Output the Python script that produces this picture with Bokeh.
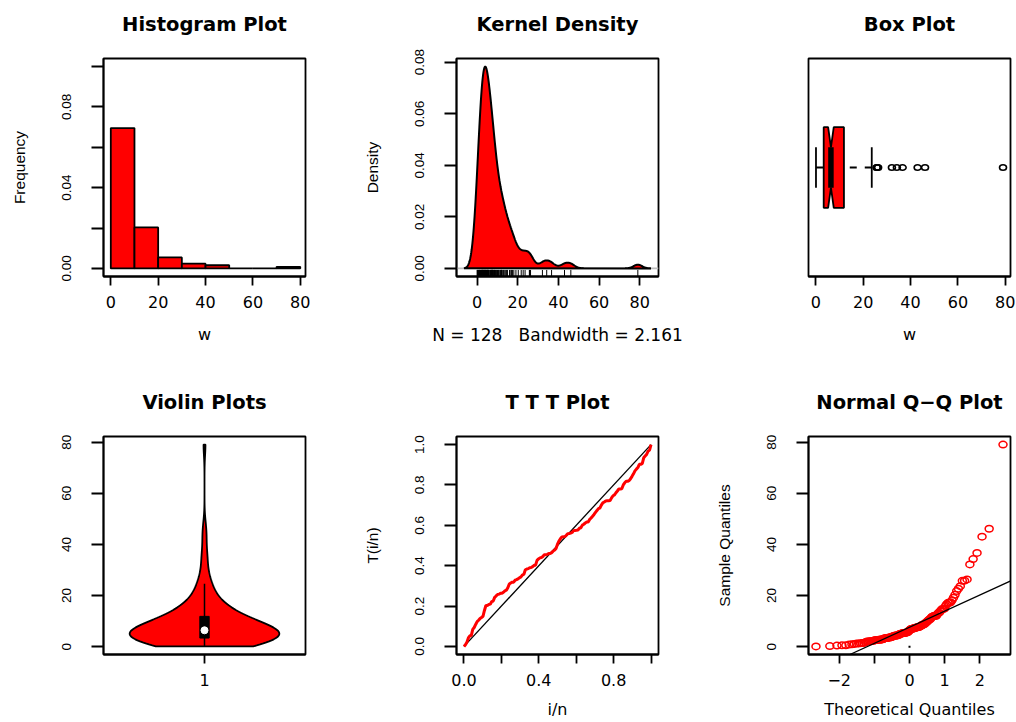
import math
from statistics import NormalDist

import numpy as np
from bokeh.embed import file_html
from bokeh.layouts import gridplot
from bokeh.models import FixedTicker, Range1d, Slope, Span
from bokeh.plotting import figure
from bokeh.resources import INLINE

# Remission times (months) of 128 bladder cancer patients
w = [
    0.08, 2.09, 3.48, 4.87, 6.94, 8.66, 13.11, 23.63, 0.20, 2.23, 3.52, 4.98, 6.97, 9.02, 13.29,
    0.40, 2.26, 3.57, 5.06, 7.09, 9.22, 13.80, 25.74, 0.50, 2.46, 3.64, 5.09, 7.26, 9.47, 14.24,
    25.82, 0.51, 2.54, 3.70, 5.17, 7.28, 9.74, 14.76, 26.31, 0.81, 2.62, 3.82, 5.32, 7.32, 10.06,
    14.77, 32.15, 2.64, 3.88, 5.32, 7.39, 10.34, 14.83, 34.26, 0.90, 2.69, 4.18, 5.34, 7.59, 10.66,
    15.96, 36.66, 1.05, 2.69, 4.23, 5.41, 7.62, 10.75, 16.62, 43.01, 1.19, 2.75, 4.26, 5.41, 7.63,
    17.12, 46.12, 1.26, 2.83, 4.33, 5.49, 7.66, 11.25, 17.14, 79.05, 1.35, 2.87, 5.62, 7.87, 11.64,
    17.36, 1.40, 3.02, 4.34, 5.71, 7.93, 11.79, 18.10, 1.46, 4.40, 5.85, 8.26, 11.98, 19.13, 1.76,
    3.25, 4.50, 6.25, 8.37, 12.02, 2.02, 3.31, 4.51, 6.54, 8.53, 12.03, 20.28, 2.02, 3.36, 6.76,
    12.07, 21.73, 2.07, 3.36, 6.93, 8.65, 12.63, 22.69,
]

hist_breaks = [0, 10, 20, 30, 40, 50, 60, 70, 80]
kde_bandwidth = 2.161
ttt_diagonal = [0.0, 1.0]
qq_origin_dot = [0.0]

# tick positions and their printed labels
w_ticks = [0, 20, 40, 60, 80]
w_tick_labels = ["0", "20", "40", "60", "80"]
hist_y_ticks = [0.0, 0.02, 0.04, 0.06, 0.08, 0.10]
hist_y_labels = ["0.00", "", "0.04", "", "0.08", ""]
kde_y_ticks = [0.0, 0.02, 0.04, 0.06, 0.08]
kde_y_labels = ["0.00", "0.02", "0.04", "0.06", "0.08"]
violin_x_ticks = [1]
violin_x_labels = ["1"]
ttt_ticks = [0.0, 0.2, 0.4, 0.6, 0.8, 1.0]
ttt_x_labels = ["0.0", "", "0.4", "", "0.8", ""]
ttt_y_labels = ["0.0", "0.2", "0.4", "0.6", "0.8", "1.0"]
qq_x_ticks = [-2, -1, 0, 1, 2]
qq_x_labels = ["\u22122", "", "0", "1", "2"]

RED = "#ff0000"
WIDE_FONT = "DejaVu Sans"
NARROW_FONT = "Liberation Sans"
LW = 1.8
TOP_BORDER = 71      # room above each frame for its heading
PAGE_SHIFT = 13      # the grid is pulled up by this much so the first frames start at y=58


x = np.sort(np.asarray(w, dtype=float))
n = len(x)


def panel(title, xr, yr, col, row):
    p = figure(
        title=title,
        x_range=Range1d(*xr), y_range=Range1d(*yr),
        frame_width=202, frame_height=218,
        min_border_left=103 if col < 2 else 102,
        min_border_right=48 if col < 2 else 6,
        min_border_top=TOP_BORDER,
        min_border_bottom=89 if row == 0 else 68,
        output_backend="svg", toolbar_location=None,
    )
    p.title.align = "center"
    p.title.text_font = WIDE_FONT
    p.title.text_font_style = "bold"
    p.title.text_font_size = "19.5px"
    p.title.text_color = "black"
    p.title.standoff = 45
    p.grid.visible = False
    p.outline_line_color = "black"
    p.outline_line_width = LW
    p.outline_line_alpha = 1.0
    p.background_fill_color = "white"
    p.border_fill_color = "white"
    return p


def style_x(p, ticks, labels, title=None, title_standoff=14, title_size="16px"):
    ax = p.xaxis[0]
    ax.ticker = FixedTicker(ticks=ticks)
    ax.major_label_overrides = {t: s for t, s in zip(ticks, labels)}
    ax.minor_tick_line_color = None
    ax.major_tick_in = 0
    ax.major_tick_out = 9
    ax.major_tick_line_width = LW
    ax.axis_line_width = LW
    ax.major_label_text_font = WIDE_FONT
    ax.major_label_text_font_size = "16px"
    ax.major_label_text_color = "black"
    ax.major_label_standoff = 10
    if title is not None:
        ax.axis_label = title
        ax.axis_label_text_font = WIDE_FONT
        ax.axis_label_text_font_size = title_size
        ax.axis_label_text_font_style = "normal"
        ax.axis_label_text_color = "black"
        ax.axis_label_standoff = title_standoff


def style_y(p, ticks, labels, title=None):
    ax = p.yaxis[0]
    ax.ticker = FixedTicker(ticks=ticks)
    ax.major_label_overrides = {t: s for t, s in zip(ticks, labels)}
    ax.minor_tick_line_color = None
    ax.major_tick_in = 0
    ax.major_tick_out = 12
    ax.major_tick_line_width = LW
    ax.axis_line_width = LW
    ax.major_label_orientation = "vertical"
    ax.major_label_text_font = NARROW_FONT
    ax.major_label_text_font_size = "13.5px"
    ax.major_label_text_color = "black"
    ax.major_label_standoff = 20
    if title is not None:
        ax.axis_label = title
        ax.axis_label_text_font = NARROW_FONT
        ax.axis_label_text_font_size = "15.5px"
        ax.axis_label_text_font_style = "normal"
        ax.axis_label_text_color = "black"
        ax.axis_label_standoff = 32


# ---- Histogram (density scale) ----
counts, edges = np.histogram(x, bins=hist_breaks)
hist_density = counts / (n * np.diff(edges))

p1 = panel("Histogram Plot", (-3.08, 82.21), (-0.004, 0.104), 0, 0)
p1.quad(left=edges[:-1], right=edges[1:], bottom=0, top=hist_density,
        fill_color=RED, line_color="black", line_width=LW)
style_x(p1, w_ticks, w_tick_labels, "w")
style_y(p1, hist_y_ticks, hist_y_labels, "Frequency")

# ---- Gaussian kernel density ----
grid = np.linspace(x.min() - 3 * kde_bandwidth, x.max() + 3 * kde_bandwidth, 512)
kde = np.exp(-0.5 * ((grid[:, None] - x[None, :]) / kde_bandwidth) ** 2).sum(axis=1)
kde /= n * kde_bandwidth * math.sqrt(2 * math.pi)

kx_pad = 0.04 * (grid[-1] - grid[0])
ky_pad = 0.04 * kde.max()
p2 = panel("Kernel Density", (grid[0] - kx_pad, grid[-1] + kx_pad), (-ky_pad, kde.max() + ky_pad), 1, 0)
p2.add_layout(Span(location=0, dimension="width", line_color="#bebebe", line_width=LW, level="underlay"))
p2.patch(grid, kde, fill_color=RED, line_color="black", line_width=2)
rug_lo = -ky_pad
rug_hi = -ky_pad + 0.03 * (kde.max() + 2 * ky_pad)
p2.segment(x0=x, x1=x, y0=rug_lo, y1=rug_hi, line_color="black", line_width=1)
nbsp3 = "\u00a0" * 3
style_x(p2, w_ticks, w_tick_labels, f"N = {n}{nbsp3}Bandwidth = {kde_bandwidth}", title_size="17px")
style_y(p2, kde_y_ticks, kde_y_labels, "Density")

# ---- Notched horizontal box plot ----
def tukey_hinges(v):
    m = len(v)
    n4 = math.floor((m + 3) / 2) / 2
    pos = [1, n4, (m + 1) / 2, m + 1 - n4, m]
    return [0.5 * (v[math.floor(d) - 1] + v[math.ceil(d) - 1]) for d in pos]


_, q1, med, q3, _ = tukey_hinges(x)
iqr = q3 - q1
w_lo = x[x >= q1 - 1.5 * iqr].min()
w_hi = x[x <= q3 + 1.5 * iqr].max()
outliers = x[(x < w_lo) | (x > w_hi)]
notch = 1.58 * iqr / math.sqrt(n)
at, hw = 1.0, 0.2

p3 = panel("Box Plot", (-3.08, 82.21), (0.46, 1.54), 2, 0)
bx = [q1, med - notch, med, med + notch, q3, q3, med + notch, med, med - notch, q1]
by = [at - hw, at - hw, at - hw / 2, at - hw, at - hw, at + hw, at + hw, at + hw / 2, at + hw, at + hw]
p3.patch(bx, by, fill_color=RED, line_color="black", line_width=LW)
p3.segment(x0=[w_lo, w_hi], x1=[q1, q3], y0=at, y1=at, line_color="black",
           line_width=LW, line_dash="7 8")
p3.segment(x0=[w_lo, w_hi], x1=[w_lo, w_hi], y0=at - hw / 2, y1=at + hw / 2,
           line_color="black", line_width=LW)
p3.segment(x0=med, x1=med, y0=at - hw / 2, y1=at + hw / 2, line_color="black", line_width=5.5)
p3.ellipse(x=outliers, y=at, width=7, height=5.5, width_units="screen", height_units="screen",
           fill_color=None, line_color="black", line_width=1.6)
style_x(p3, w_ticks, w_tick_labels, "w")
p3.yaxis.visible = False

# ---- Violin plot ----
h_norm = np.std(x, ddof=1) * (4 / (3 * n)) ** 0.2
vbase = np.linspace(x.min(), x.max(), 200)
vdens = np.exp(-0.5 * ((vbase[:, None] - x[None, :]) / h_norm) ** 2).sum(axis=1)
vhalf = vdens * 0.4 / vdens.max()
vq1, vmed, vq3 = np.quantile(x, [0.25, 0.5, 0.75])
v_hi = min(vq3 + 1.5 * (vq3 - vq1), x.max())
v_lo = max(vq1 - 1.5 * (vq3 - vq1), x.min())

p4 = panel("Violin Plots", (0.46, 1.54), (-3.08, 82.21), 0, 1)
p4.patch(np.concatenate([1 - vhalf, (1 + vhalf)[::-1]]), np.concatenate([vbase, vbase[::-1]]),
         fill_color=RED, line_color="black", line_width=LW)
p4.segment(x0=1, x1=1, y0=v_lo, y1=v_hi, line_color="black", line_width=1.5)
p4.quad(left=1 - 0.025, right=1 + 0.025, bottom=vq1, top=vq3, fill_color="black", line_color="black")
p4.scatter(x=[1], y=[vmed], marker="circle", size=7, fill_color="white", line_color="white")
style_x(p4, violin_x_ticks, violin_x_labels)
style_y(p4, w_ticks, w_tick_labels)

# ---- Total time on test plot ----
ttn = np.cumsum(x) + (n - np.arange(1, n + 1)) * x
ttt_x = np.concatenate([[0.0], np.arange(1, n + 1) / n])
ttt_y = np.concatenate([[0.0], ttn / ttn[-1]])

p5 = panel("T T T Plot", (-0.04, 1.04), (-0.04, 1.04), 1, 1)
p5.line(ttt_diagonal, ttt_diagonal, line_color="black", line_width=1.3)
p5.line(ttt_x, ttt_y, line_color=RED, line_width=3)
style_x(p5, ttt_ticks, ttt_x_labels, "i/n", title_standoff=11)
style_y(p5, ttt_ticks, ttt_y_labels, "T(i/n)")

# ---- Normal Q-Q plot ----
nd = NormalDist()
theo = np.array([nd.inv_cdf((i - 0.5) / n) for i in range(1, n + 1)])
yq1, yq3 = np.quantile(x, [0.25, 0.75])
zq1, zq3 = nd.inv_cdf(0.25), nd.inv_cdf(0.75)
slope = (yq3 - yq1) / (zq3 - zq1)
intercept = yq1 - slope * zq1
tpad = 0.04 * (theo[-1] - theo[0])

p6 = panel("Normal Q\u2212Q Plot", (theo[0] - tpad, theo[-1] + tpad), (-3.08, 82.21), 2, 1)
p6.ellipse(x=theo, y=x, width=8, height=6.5, width_units="screen", height_units="screen",
           fill_color=None, line_color=RED, line_width=1.5)
p6.add_layout(Slope(gradient=slope, y_intercept=intercept, line_color="black", line_width=1.3))
p6.scatter(x=qq_origin_dot, y=qq_origin_dot, marker="square", size=2, fill_color="black",
           line_color=None)
style_x(p6, qq_x_ticks, qq_x_labels, "Theoretical Quantiles", title_standoff=11)
style_y(p6, w_ticks, w_tick_labels, "Sample Quantiles")

layout = gridplot([[p1, p2, p3], [p4, p5, p6]], toolbar_location=None)
layout.styles = {"margin-top": f"-{PAGE_SHIFT}px"}

with open("out.html", "w") as f:
    f.write(file_html(layout, INLINE, title="Distribution plots"))
